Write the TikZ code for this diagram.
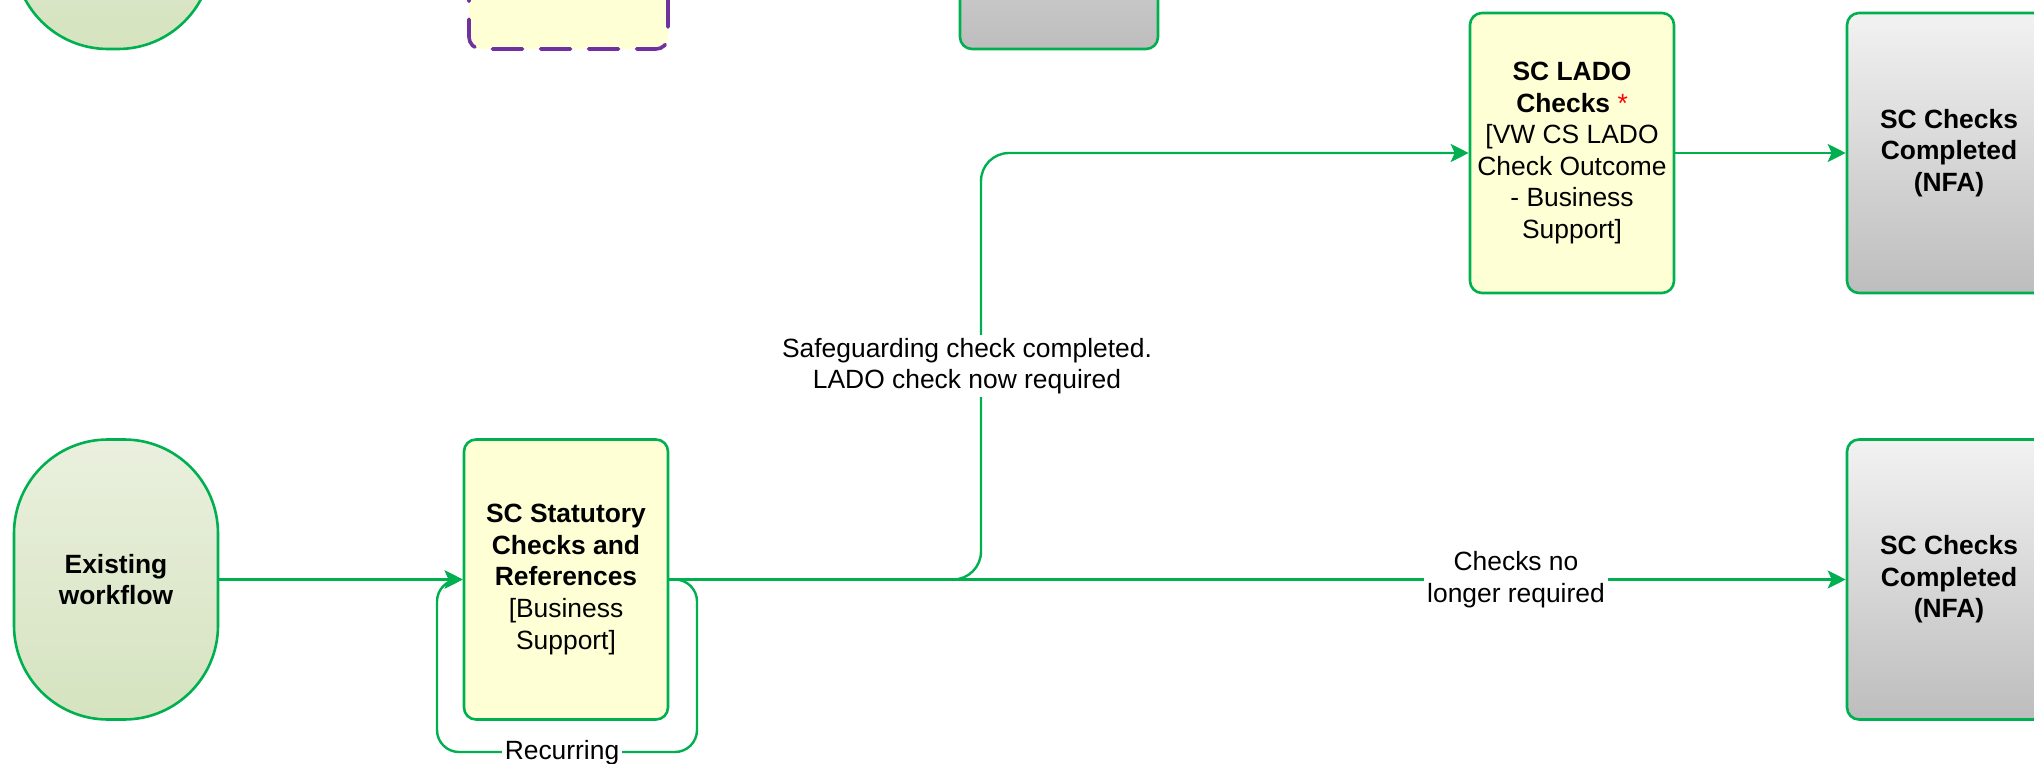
\documentclass[tikz,border=0pt]{standalone}
\usepackage{fontspec}
\setmainfont{Liberation Sans}
\usetikzlibrary{arrows.meta,calc}
\definecolor{grn}{HTML}{00B050}
\definecolor{yel}{HTML}{FFFFD6}
\definecolor{purp}{HTML}{7030A0}
\definecolor{gtop}{HTML}{F2F2F2}
\definecolor{gbot}{HTML}{BDBDBD}
\definecolor{etop}{HTML}{EAF0DE}
\definecolor{ebot}{HTML}{D5E3BF}
\tikzset{
  txt/.style={font=\fontsize{13.2}{15.8}\selectfont},
  box/.style={draw=grn, line width=1.3pt, rounded corners=6pt, minimum width=102pt, minimum height=140pt, align=center, inner sep=0pt, txt},
  yelbox/.style={box, fill=yel},
  greybox/.style={box, top color=gtop, bottom color=gbot},
  termbox/.style={box, rounded corners=47pt, top color=etop, bottom color=ebot},
  flow/.style={draw=grn, line width=1.2pt, -{Stealth[length=9pt,width=9pt,inset=2pt]}},
  lbl/.style={fill=white, inner sep=1.5pt, align=center, txt}
}
\begin{document}
\begin{tikzpicture}[x=0.5pt,y=-0.5pt]
\clip (0,0) rectangle (2034,764);
% partial shapes at the top
\node[termbox, minimum width=99pt] (topoval) at (113,-91) {};
\node[yelbox, draw=purp, line width=1.8pt, line cap=round, dash pattern=on 15pt off 9pt, minimum width=99.5pt] (purpbox) at (568.5,-91) {};
\node[greybox, minimum width=99pt] (greytop) at (1059,-91) {};
% main nodes
\node[termbox] (exist) at (116,579.5) {\bfseries Existing\\\bfseries workflow};
\node[yelbox] (stat) at (566,579.5) {\bfseries SC Statutory\\\bfseries Checks and\\\bfseries References\\{[}Business\\Support{]}};
\node[yelbox] (lado) at (1572,153) {\bfseries SC LADO\\\bfseries Checks {\color{red}\mdseries *}\\{[}VW CS LADO\\Check Outcome\\- Business\\Support{]}};
\node[greybox] (donetop) at (1949,153) {\bfseries SC Checks\\\bfseries Completed\\\bfseries (NFA)};
\node[greybox] (donelow) at (1949,579.5) {\bfseries SC Checks\\\bfseries Completed\\\bfseries (NFA)};
% connectors
\coordinate (bend) at (981,579.5);
\coordinate (loopr) at (697,752);
\coordinate (loopl) at (437,752);
\draw[flow] (exist) -- (stat);
\draw[flow, rounded corners=14pt] (stat.east) -- (bend) |- (lado.west);
\draw[flow] (stat.east) -- (donelow.west);
\draw[flow, rounded corners=11pt] (stat.east) -| (loopr) -- (loopl) |- (stat.west);
\draw[flow] (lado) -- (donetop);
% labels
\node[lbl] (lsafe) at (967,366) {Safeguarding check completed.\\LADO check now required};
\node[lbl] (lno) at (1516,579.5) {Checks no\\longer required};
\node[lbl, inner ysep=0.5pt] (lrec) at (562,753) {Recurring};
\end{tikzpicture}
\end{document}
